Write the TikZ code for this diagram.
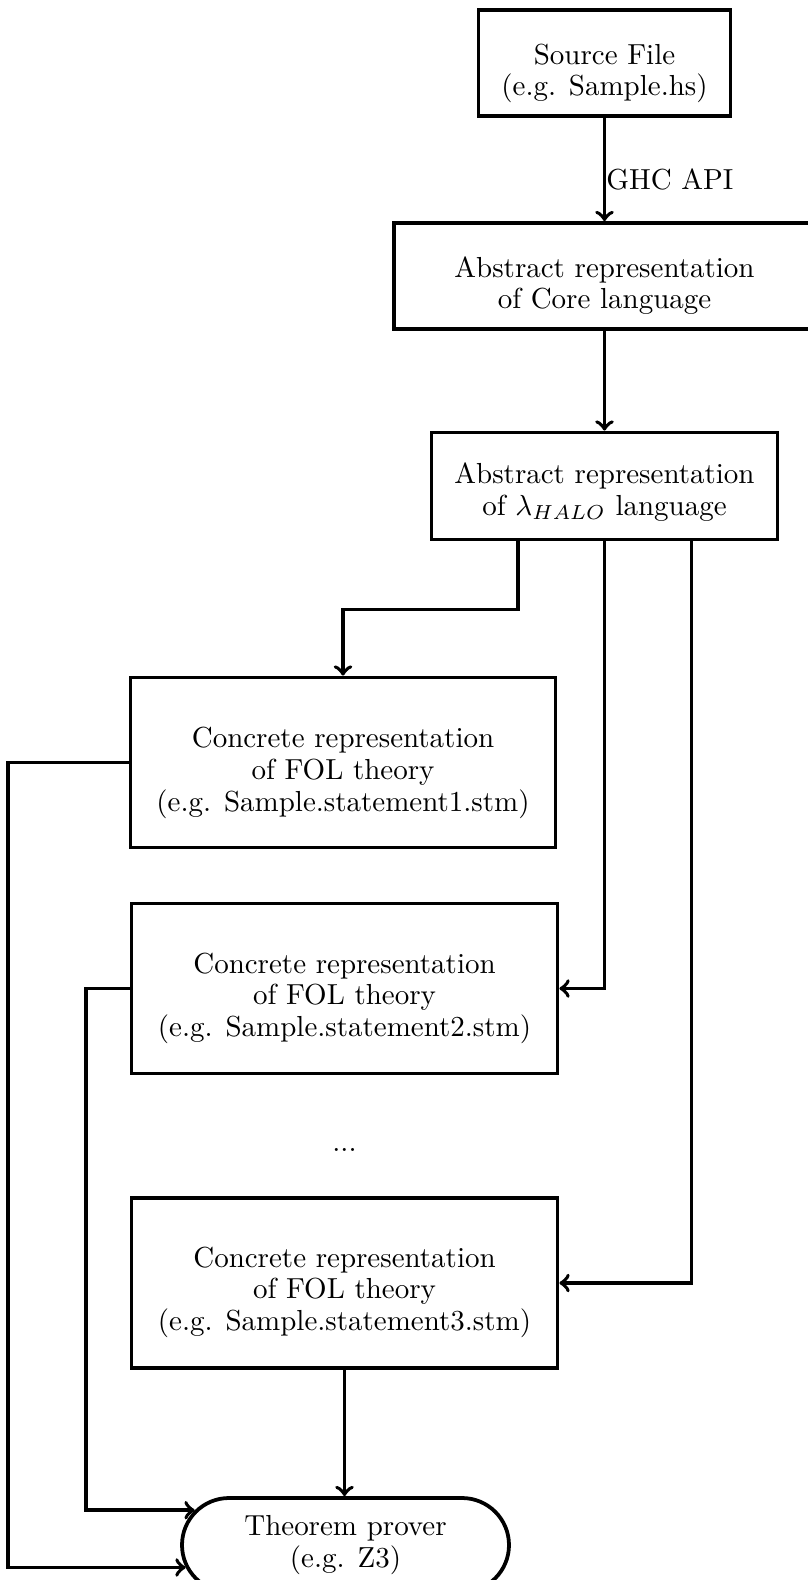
\documentclass[tikz,border=0pt]{standalone}
\usetikzlibrary{shapes.misc}
\def\px{0.345pt}
\def\vpush#1{\rule{0pt}{#1}}
\begin{document}
\begin{tikzpicture}[x=\px,y=-\px,
  every node/.style={font=\fontsize{10}{10.9}\selectfont},
  boxnode/.style={draw,line width=1.3pt,align=center,inner sep=0pt},
  arr/.style={->,line width=1.3pt},
  lbl/.style={inner sep=0pt}]
\useasboundingbox (0,0) rectangle (807,1580);
\node[boxnode,minimum width=252*\px,minimum height=106*\px] (src) at (604.5,63) {\vpush{14.3pt}Source File\\(e.g. Sample.hs)};
\node[boxnode,minimum width=421*\px,minimum height=106*\px] (core) at (604.5,276) {\vpush{13.8pt}Abstract representation\\of Core language};
\node[boxnode,minimum width=346*\px,minimum height=107*\px] (halo) at (604.5,486) {\vpush{11.3pt}Abstract representation\\of $\lambda_{HALO}$ language};
\node[boxnode,minimum width=425*\px,minimum height=170*\px] (c1) at (343,762.5) {\vpush{14.2pt}Concrete representation\\of FOL theory\\(e.g. Sample.statement1.stm)};
\node[boxnode,minimum width=426*\px,minimum height=170*\px] (c2) at (344.5,988.5) {\vpush{13.8pt}Concrete representation\\of FOL theory\\(e.g. Sample.statement2.stm)};
\node[lbl] (dots) at (344.5,1150) {...};
\node[boxnode,minimum width=426*\px,minimum height=170*\px] (c3) at (344.5,1283) {\vpush{13.5pt}Concrete representation\\of FOL theory\\(e.g. Sample.statement3.stm)};
\node[boxnode,rounded rectangle,minimum width=327*\px,minimum height=94*\px] (tp) at (345.5,1545) {Theorem prover\\(e.g. Z3)};
\draw[arr] (src) -- node[lbl,anchor=west,pos=0.6] (ghc) {GHC API} (core);
\draw[arr] (core) -- (halo);
\draw[arr] ([xshift=-86.5*\px]halo.south) -- ++(0,68) -| (c1.north);
\draw[arr] (halo.south) |- (c2.east);
\draw[arr] ([xshift=87*\px]halo.south) |- (c3.east);
\draw[arr] (c3.south) -- (c3.south |- tp.north);
\draw[arr] (c1.west) -- ++(-120.5,0) |- (tp.188);
\draw[arr] (c2.west) -- ++(-44,0) |- (tp.167);
\end{tikzpicture}
\end{document}
